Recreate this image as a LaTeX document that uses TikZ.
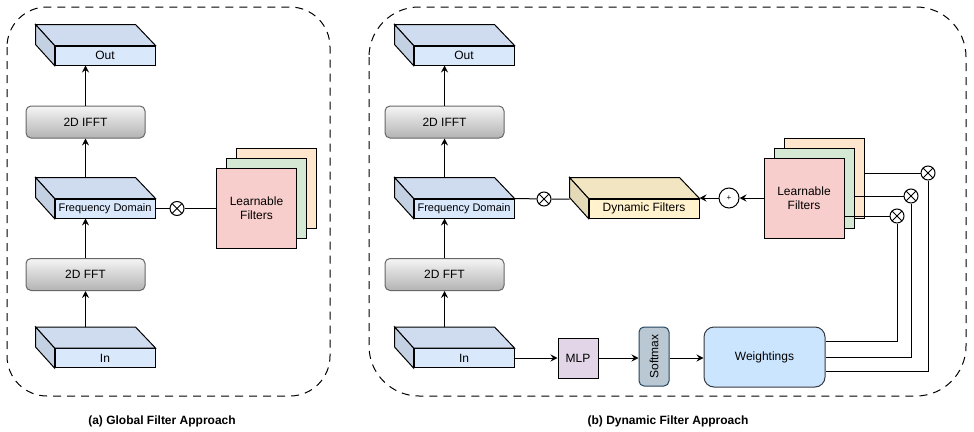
\documentclass[tikz,border=0pt]{standalone}
\usepackage{fontspec}
\setmainfont{Liberation Sans}
\usetikzlibrary{arrows.meta}
\definecolor{cubeblue}{HTML}{DAE8FC}
\definecolor{cubeyellow}{HTML}{FFF2CC}
\definecolor{fltpink}{HTML}{F8CECC}
\definecolor{fltgreen}{HTML}{D5E8D4}
\definecolor{fltorange}{HTML}{FFE6CC}
\definecolor{mlppurple}{HTML}{E1D5E7}
\definecolor{smgray}{HTML}{BAC8D3}
\definecolor{smline}{HTML}{23445D}
\definecolor{wtblue}{HTML}{CCE5FF}
\definecolor{wtline}{HTML}{36393D}
\definecolor{fftlight}{HTML}{F5F5F5}
\definecolor{fftdark}{HTML}{B3B3B3}
\definecolor{fftline}{HTML}{666666}
% name, centre of front face, width, fill, label
\newcommand{\cubeblock}[5]{%
  \node[cubefront,minimum width=#3pt,fill=#4] (#1) at (#2) {#5};
  \filldraw[fill=#4!95!black] (#1.north west) -- ++(-19,-21) -- ++(#3,0) -- (#1.north east) -- cycle;
  \filldraw[fill=#4!90!black] (#1.north west) -- ++(-19,-21) -- ++(0,20) -- (#1.south west) -- cycle;
  \coordinate (#1-back) at ([xshift=-19pt,yshift=21pt]#1.north west);
}
\begin{document}
\begin{tikzpicture}[x=1pt,y=-1pt,line width=1pt,
  >={Stealth[length=7pt,width=7pt,inset=2.5pt]},
  every node/.style={font=\fontsize{12}{14.5}\selectfont},
  cubefront/.style={draw,minimum height=19pt,inner sep=0pt},
  fftbox/.style={draw=fftline,rounded corners=5pt,top color=fftlight,bottom color=fftdark,
    minimum width=119pt,minimum height=32pt},
  filt/.style={draw,minimum size=80pt,inner sep=0pt},
  otimes/.style={draw,circle,fill=white,minimum size=14pt,inner sep=0pt,
    path picture={\draw (path picture bounding box.north west) -- (path picture bounding box.south east)
      (path picture bounding box.south west) -- (path picture bounding box.north east);}},
  oplus/.style={draw,circle,minimum size=20pt,inner sep=0pt,font=\fontsize{8}{8}\selectfont},
  panel/.style={draw,dash pattern=on 8pt off 6pt,rounded corners=#1},
  caption/.style={font=\fontsize{12}{14}\selectfont\bfseries}]
\useasboundingbox (0,0) rectangle (974,431);
\draw[panel=40pt] (7,7) rectangle (330,396);
\draw[panel=50pt] (369,7) rectangle (966,396);

% (a) global filter
\cubeblock{outa}{105,55.5}{100}{cubeblue}{Out}
\node[fftbox] (iffta) at (85.5,122) {2D IFFT};
\cubeblock{fda}{105,208.5}{100}{cubeblue}{\fontsize{11}{13}\selectfont Frequency Domain}
\node[fftbox] (ffta) at (85.5,274.5) {2D FFT};
\cubeblock{ina}{105,358}{100}{cubeblue}{In}
\node[otimes] (ota) at (177,208.5) {};
\node[filt,fill=fltorange] (ora) at (276.5,188) {};
\node[filt,fill=fltgreen] (gra) at (266.5,198) {};
\node[filt,fill=fltpink,align=center] (lfa) at (256.5,208) {Learnable\\Filters};
\draw[->] (ffta.south |- ina-back) -- (ffta.south);
\draw[->] (ffta.north) -- (ffta.north |- fda.south);
\draw[->] (iffta.south |- fda-back) -- (iffta.south);
\draw[->] (iffta.north) -- (iffta.north |- outa.south);
\draw (fda.east) -- (ota) -- (ota -| lfa.west);
\node[caption] (capa) at (162,421) {(a) Global Filter Approach};

% (b) dynamic filter
\cubeblock{outb}{464,55.5}{100}{cubeblue}{Out}
\node[fftbox] (ifftb) at (444.5,122) {2D IFFT};
\cubeblock{fdb}{464,208.5}{100}{cubeblue}{\fontsize{11}{13}\selectfont Frequency Domain}
\node[fftbox] (fftb) at (444.5,274.5) {2D FFT};
\cubeblock{inb}{464,358}{100}{cubeblue}{In}
\node[otimes] (otb) at (544,199) {};
\cubeblock{dynf}{644,208.5}{110}{cubeyellow}{Dynamic Filters}
\node[oplus] (opb) at (729,198) {+};
\node[filt,fill=fltorange] (orb) at (824,178) {};
\node[filt,fill=fltgreen] (grb) at (814,188) {};
\node[filt,fill=fltpink,align=center] (lfb) at (804,198) {Learnable\\Filters};
\node[otimes] (ot1) at (928,173) {};
\node[otimes] (ot2) at (911,196) {};
\node[otimes] (ot3) at (897,216) {};
\node[draw,fill=mlppurple,minimum size=40pt,inner sep=0pt] (mlp) at (578,358) {MLP};
\node[draw=smline,fill=smgray,rounded corners=5pt,minimum width=30pt,minimum height=59pt,inner sep=0pt] (sm) at (654,356.5) {\rotatebox{90}{Softmax}};
\node[draw=wtline,fill=wtblue,rounded corners=10pt,minimum width=121pt,minimum height=60pt] (wt) at (764.5,357) {Weightings};
\draw[->] (fftb.south |- inb-back) -- (fftb.south);
\draw[->] (fftb.north) -- (fftb.north |- fdb.south);
\draw[->] (ifftb.south |- fdb-back) -- (ifftb.south);
\draw[->] (ifftb.north) -- (ifftb.north |- outb.south);
\draw (fdb.north east) -- (otb) -- (otb -| dynf-back);
\draw[->] (lfb.west) -- (opb.east);
\draw[->] (opb.west) -- (opb.west -| dynf.east);
\draw (ot1.west -| orb.east) -- (ot1.west);
\draw (ot2.west -| grb.east) -- (ot2.west);
\draw (ot3.west -| lfb.east) -- (ot3.west);
\draw (ot1.south) |- ([yshift=-14pt]wt.east);
\draw (ot2.south) |- (wt.east);
\draw (ot3.south) |- ([yshift=16pt]wt.east);
\draw[->] (inb.east) -- (mlp.west);
\draw[->] (mlp.east) -- (mlp.east -| sm.west);
\draw[->] (sm.east |- mlp.east) -- (wt.west |- mlp.east);
\node[caption] (capb) at (668,421) {(b) Dynamic Filter Approach};
\end{tikzpicture}
\end{document}
